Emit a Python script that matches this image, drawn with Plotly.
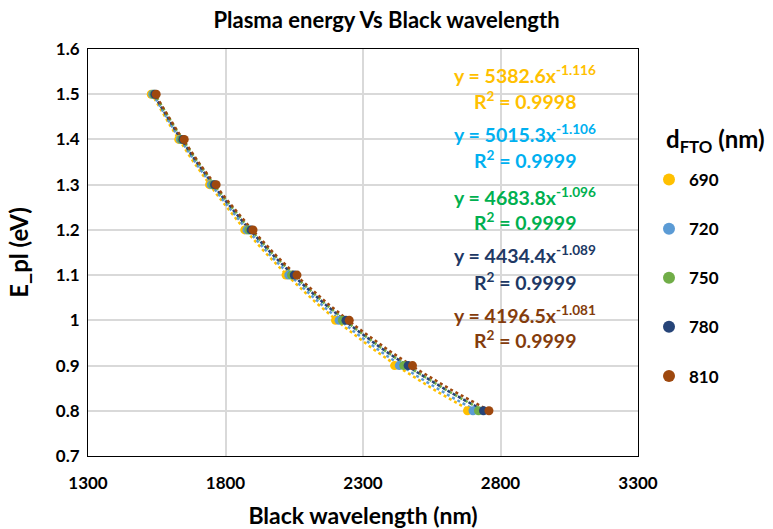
import numpy as np
import plotly.graph_objects as go

# Plasma energy levels (eV) shared by every film thickness
energy = [1.5, 1.4, 1.3, 1.2, 1.1, 1.0, 0.9, 0.8]

# FTO thickness (nm) for each series
thickness = ["690", "720", "750", "780", "810"]

# Black wavelength (nm) for each thickness, one value per energy level
wl_690 = [1530, 1630, 1742, 1870, 2020, 2200, 2415, 2680]
wl_720 = [1535, 1636, 1748, 1878, 2030, 2213, 2432, 2700]
wl_750 = [1539, 1640, 1754, 1885, 2040, 2225, 2448, 2720]
wl_780 = [1543, 1645, 1760, 1893, 2050, 2238, 2464, 2738]
wl_810 = [1548, 1650, 1766, 1900, 2060, 2250, 2480, 2758]
wavelengths = [wl_690, wl_720, wl_750, wl_780, wl_810]

# Power-law trendline coefficients y = a * x^b and their R^2
fit_a = [5382.6, 5015.3, 4683.8, 4434.4, 4196.5]
fit_b = [-1.116, -1.106, -1.096, -1.089, -1.081]
fit_r2 = ["0.9998", "0.9999", "0.9999", "0.9999", "0.9999"]

marker_colors = ["#FFC000", "#5B9BD5", "#70AD47", "#264478", "#9E480E"]
label_colors = ["#FFC000", "#00B0F0", "#00B050", "#203864", "#843C0C"]

FONT = "Lato"
W, H = 773, 529
L, R, T, B = 88, 135, 49, 73

fig = go.Figure()

# dotted power trendlines
for wl, a, b, c in zip(wavelengths, fit_a, fit_b, marker_colors):
    xs = np.linspace(min(wl), max(wl), 120)
    fig.add_trace(go.Scatter(
        x=xs, y=a * xs ** b, mode="lines",
        line=dict(color=c, width=2.5, dash="dot"),
        showlegend=False, hoverinfo="skip"))

# measured points
for wl, name, c in zip(wavelengths, thickness, marker_colors):
    fig.add_trace(go.Scatter(
        x=wl, y=energy, mode="markers", name=name,
        legendgroup=name,
        marker=dict(color=c, size=9)))


def py(p):
    return (H - B - p) / (H - T - B)


def px(p):
    return (p - L) / (W - L - R)


# trendline equations
eq_y = [74, 133, 196, 254, 314]
r2_y = [100, 159, 221, 281, 339]
for a, b, r2, c, ye, yr in zip(fit_a, fit_b, fit_r2, label_colors, eq_y, r2_y):
    fig.add_annotation(
        x=px(525), y=py(ye), xref="paper", yref="paper", showarrow=False,
        xanchor="center", yanchor="middle",
        text=f"<b>y = {a}x<sup>{b}</sup></b>",
        font=dict(family=FONT, size=19.5, color=c))
    fig.add_annotation(
        x=px(525), y=py(yr), xref="paper", yref="paper", showarrow=False,
        xanchor="center", yanchor="middle",
        text=f"<b>R<sup>2</sup> = {r2}</b>",
        font=dict(family=FONT, size=19.5, color=c))

# legend heading
fig.add_annotation(
    x=px(664), y=py(140), xref="paper", yref="paper", showarrow=False,
    xanchor="left", yanchor="middle",
    text="<b>d<sub>FTO</sub> (nm)</b>",
    font=dict(family=FONT, size=24, color="black"))

axis_common = dict(
    showgrid=True, gridcolor="#D9D9D9", gridwidth=1.5,
    showline=True, linecolor="black", linewidth=1, mirror=True,
    ticks="", zeroline=False, automargin=False,
    tickfont=dict(family=FONT, size=17, color="black", weight="bold"),
)

fig.update_layout(
    width=W, height=H,
    margin=dict(l=L, r=R, t=T, b=B, autoexpand=False),
    paper_bgcolor="white", plot_bgcolor="white",
    title=dict(text="<b>Plasma energy Vs Black wavelength</b>",
               x=0.5, xanchor="center", y=1 - 20 / H, yanchor="middle",
               font=dict(family=FONT, size=22, color="black")),
    xaxis=dict(range=[1300, 3300], dtick=500, tick0=1300,
               ticklabelstandoff=12,
               title=dict(text="<b>Black wavelength (nm)</b>",
                          font=dict(family=FONT, size=23, color="black"),
                          standoff=15),
               **axis_common),
    yaxis=dict(range=[0.7, 1.6], dtick=0.1, tick0=0.7,
               ticklabelstandoff=4,
               title=dict(text="<b>E_pl (eV)</b>",
                          font=dict(family=FONT, size=24, color="black"),
                          standoff=20),
               **axis_common),
    legend=dict(
        x=px(649), y=py(162), xanchor="left", yanchor="top",
        font=dict(family=FONT, size=17, color="black", weight="bold"),
        tracegroupgap=24, itemsizing="constant",
        bgcolor="rgba(0,0,0,0)"),
    showlegend=True,
)

fig.write_html("out.html")
